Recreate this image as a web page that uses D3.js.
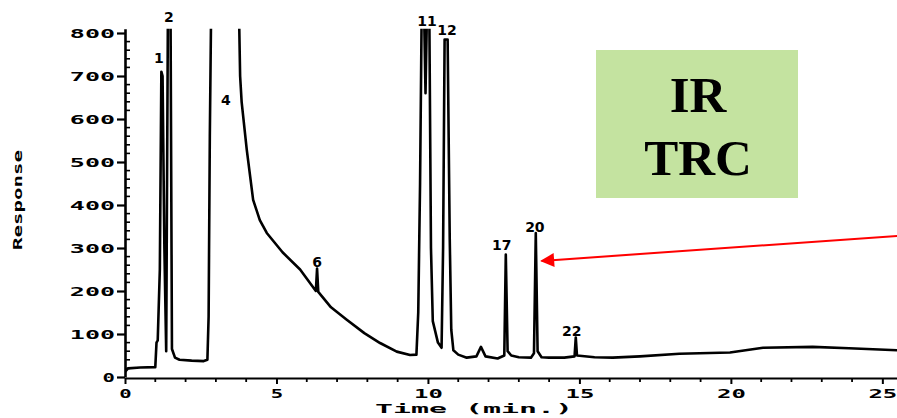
<!DOCTYPE html>
<html>
<head>
<meta charset="utf-8">
<script src="https://cdn.jsdelivr.net/npm/d3@7"></script>
<style>
  body { margin: 0; background: #fff; }
  svg { display: block; }
</style>
</head>
<body>
<svg id="chart" width="897" height="418"></svg>
<script>
// trace (time in min, response); 900 = off scale
var times = [0, 0.1, 0.5, 1.0, 1.04, 1.08, 1.15, 1.2, 1.24, 1.3, 1.36, 1.42, 1.46, 1.5, 1.55, 1.65, 1.8, 2.2, 2.6,
  2.72, 2.76, 2.8, 2.85, 3.75, 3.8, 3.85, 4.02, 4.23, 4.45, 4.68, 5.2, 5.78, 6.3, 6.34, 6.38, 6.8, 7.32, 7.9, 8.42,
  8.97, 9.41, 9.62, 9.68, 9.74, 9.8, 9.86, 9.92, 9.98, 10.04, 10.1, 10.16, 10.33, 10.45, 10.5, 10.55, 10.65,
  10.72, 10.77, 10.84, 11.0, 11.28, 11.6, 11.75, 11.9, 12.3, 12.52, 12.57, 12.63, 12.75, 13.0, 13.4, 13.5, 13.56,
  13.62, 13.75, 14.0, 14.5, 14.84, 14.88, 14.92, 15.5, 16.1, 17.0, 18.3, 19.97, 21.06, 22.7, 23.9, 25.5];
var response = [12, 20, 22, 23, 80, 85, 250, 710, 700, 300, 60, 900, 900, 900, 65, 45, 40, 38, 37,
  40, 140, 560, 900, 900, 700, 640, 528, 412, 365, 335, 290, 250, 200, 252, 198, 162, 133, 102, 79,
  59, 51, 52, 150, 450, 900, 900, 660, 900, 900, 300, 130, 80, 68, 300, 785, 785,
  320, 110, 62, 52, 45, 48, 70, 48, 43, 50, 285, 60, 50, 46, 45, 55, 335,
  60, 46, 45, 45, 48, 92, 50, 46, 45, 48, 54, 57, 68, 70, 67, 62];

// peak numbers and where their labels sit
var peakNames = ['1', '2', '4', '6', '11', '12', '17', '20', '22'];
var peakTimes = [1.12, 1.45, 3.33, 6.34, 9.97, 10.63, 12.44, 13.53, 14.75];
var peakLabelLevels = [730, 826, 633, 256, 816, 795, 295, 337, 95];

var yTicks = [0, 100, 200, 300, 400, 500, 600, 700, 800];
var xTicks = [0, 5, 10, 15, 20, 25];
var boxLines = ['IR', 'TRC'];

// arrow pointing at peak 20
var arrowFrom = [25.5, 328];
var arrowTo = [13.75, 270];

var svg = d3.select('#chart');
var svg_width = +svg.attr('width');

var xScale = d3.scaleLinear().domain([0, 25.5]).range([125, 897.5]);
var yScale = d3.scaleLinear().domain([0, 800]).range([377, 33]);
var yTop = 810;

var monoFont = '"DejaVu Sans Mono", monospace';
var charPitch = 16.4;

svg.append('rect').attr('width', svg_width).attr('height', 418).attr('fill', '#fff');

// stretch the blocky plotter labels to the printed width
function stretch(sel) {
  sel.attr('font-family', monoFont)
    .attr('font-weight', 'bold')
    .attr('font-size', 13)
    .attr('lengthAdjust', 'spacingAndGlyphs')
    .attr('textLength', function(d) { return String(d).length * charPitch - 4; });
}

// y axis
var yAxisLine = d3.scaleLinear().domain([0, yTop]).range([yScale(0), yScale(yTop)]);
var yAxis = svg.append('g').attr('transform', 'translate(' + xScale(0) + ',0)');
yAxis.call(d3.axisLeft(yAxisLine).tickValues(yTicks).tickSize(8).tickSizeOuter(0).tickPadding(2));
yAxis.select('.domain').attr('stroke-width', 2.6);
yAxis.selectAll('.tick line').attr('stroke-width', 2.2);
yAxis.selectAll('.tick text').attr('dy', '0.36em').call(stretch);
// minor ticks to the right
yAxis.selectAll('line.minor')
  .data(d3.range(20, yTop, 20).filter(function(v) { return v % 100 != 0; }))
  .enter().append('line')
  .classed('minor', true)
  .attr('x1', 0).attr('x2', 5)
  .attr('y1', function(d) { return yScale(d); })
  .attr('y2', function(d) { return yScale(d); })
  .attr('stroke', '#000').attr('stroke-width', 1.6);

// x axis
var xAxis = svg.append('g').attr('transform', 'translate(0,' + (yScale(0) + 1) + ')');
xAxis.call(d3.axisBottom(xScale).tickValues(xTicks).tickSize(6).tickSizeOuter(0).tickPadding(5));
xAxis.select('.domain').attr('stroke-width', 2.2);
xAxis.selectAll('.tick line').attr('stroke-width', 2);
xAxis.selectAll('.tick text').call(stretch);
xAxis.selectAll('line.minor')
  .data(d3.range(1, 26).filter(function(v) { return v % 5 != 0; }))
  .enter().append('line')
  .classed('minor', true)
  .attr('x1', function(d) { return xScale(d); })
  .attr('x2', function(d) { return xScale(d); })
  .attr('y1', 0).attr('y2', 4)
  .attr('stroke', '#000').attr('stroke-width', 1.8);

// axis titles
svg.append('text')
  .datum('Response')
  .attr('transform', 'translate(22,200) rotate(-90)')
  .attr('text-anchor', 'middle')
  .text(function(d) { return d; })
  .call(stretch)
  .attr('textLength', 100);

svg.append('text')
  .datum('Time  (min.)')
  .attr('x', 474).attr('y', 413)
  .attr('text-anchor', 'middle')
  .text(function(d) { return d; })
  .call(stretch)
  .attr('textLength', 198);

// chromatogram trace, clipped where it runs off scale
svg.append('clipPath').attr('id', 'plot-clip')
  .append('rect')
  .attr('x', xScale(0)).attr('y', yScale(yTop))
  .attr('width', xScale(25.5) - xScale(0))
  .attr('height', yScale(0) - yScale(yTop) + 4);

var points = times.map(function(t, i) { return [t, response[i]]; });
var line = d3.line()
  .x(function(d) { return xScale(d[0]); })
  .y(function(d) { return yScale(d[1]); });

svg.append('path')
  .datum(points)
  .attr('d', line)
  .attr('clip-path', 'url(#plot-clip)')
  .attr('fill', 'none')
  .attr('stroke', '#000')
  .attr('stroke-width', 2.6)
  .attr('stroke-linejoin', 'round');

// peak numbers
svg.selectAll('text.peak')
  .data(peakNames)
  .enter().append('text')
  .classed('peak', true)
  .attr('x', function(d, i) { return xScale(peakTimes[i]); })
  .attr('y', function(d, i) { return yScale(peakLabelLevels[i]); })
  .attr('text-anchor', 'middle')
  .attr('font-family', '"DejaVu Sans", sans-serif')
  .attr('font-weight', 'bold')
  .attr('font-size', 14)
  .text(function(d) { return d; });

// green box
var box = svg.append('g');
box.append('rect')
  .attr('x', 596).attr('y', 50)
  .attr('width', 202).attr('height', 148)
  .attr('fill', '#c4e3a0');
box.selectAll('text')
  .data(boxLines)
  .enter().append('text')
  .attr('x', 698)
  .attr('y', function(d, i) { return 112 + i * 63; })
  .attr('text-anchor', 'middle')
  .attr('font-family', '"Liberation Serif", "Times New Roman", serif')
  .attr('font-weight', 'bold')
  .attr('font-size', 51)
  .text(function(d) { return d; });

// red arrow
var defs = svg.append('defs');
defs.append('marker')
  .attr('id', 'arrowhead')
  .attr('viewBox', '0 0 10 10')
  .attr('refX', 9).attr('refY', 5)
  .attr('markerWidth', 8).attr('markerHeight', 7)
  .attr('markerUnits', 'strokeWidth')
  .attr('orient', 'auto')
  .append('path')
  .attr('d', 'M0,0 L10,5 L0,10 Z')
  .attr('fill', '#f00');

svg.append('line')
  .attr('x1', xScale(arrowFrom[0])).attr('y1', yScale(arrowFrom[1]))
  .attr('x2', xScale(arrowTo[0])).attr('y2', yScale(arrowTo[1]))
  .attr('stroke', '#f00')
  .attr('stroke-width', 2)
  .attr('marker-end', 'url(#arrowhead)');
</script>
</body>
</html>
